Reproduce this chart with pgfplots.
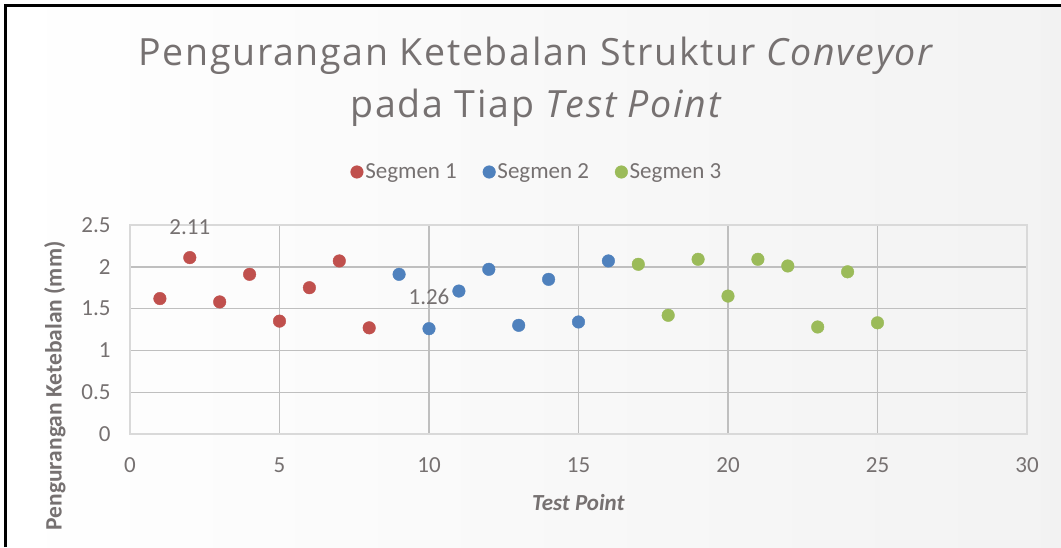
\documentclass[border=0pt]{standalone}
\usepackage{pgfplots}
\pgfplotsset{compat=1.18}
\usepackage{fontspec}
\setmainfont{Carlito}
\newfontfamily\titlefont[LetterSpace=4.5]{Open Sans}
\definecolor{txt}{HTML}{767171}
\definecolor{grid}{HTML}{D9D9D9}
\definecolor{cRed}{HTML}{C0504D}
\definecolor{cBlue}{HTML}{4F81BD}
\definecolor{cGreen}{HTML}{9BBB59}
\begin{document}
\begin{tikzpicture}
\begin{scope}[x=1pt,y=1pt]
\path[use as bounding box] (0,0) rectangle (1061,547);
\shade[left color=white, right color=black!5] (5.5,0) rectangle (1061,541.5);
\draw[line width=3.2pt] (5.5,0) -- (5.5,541.5) -- (1061,541.5);
\node[text=txt, font=\titlefont\fontsize{37.5}{52}\selectfont, align=center] at (537,465)
  {Pengurangan Ketebalan Struktur \textit{Conveyor}\\pada Tiap \textit{Test Point}};
\end{scope}
\begin{axis}[
  at={(130pt,113pt)}, anchor=south west,
  width=897pt, height=209pt, scale only axis,
  xmin=0, xmax=30, ymin=0, ymax=2.5,
  xtick={0,5,...,30}, ytick={0,0.5,...,2.5},
  grid=major, major grid style={grid, line width=1.4pt},
  axis line style={grid, line width=1.4pt},
  major tick length=0pt,
  tick label style={text=txt, font=\fontsize{23}{26}\selectfont},
  /pgf/number format/assume math mode=true,
  yticklabel style={/pgf/number format/fixed, /pgf/number format/precision=1},
  xticklabel style={yshift=-20pt},
  yticklabel style={xshift=-16pt},
  xlabel={\textbf{\textit{Test Point}}},
  xlabel style={text=txt, font=\fontsize{23}{26}\selectfont, at={(axis description cs:0.5,-0.330)}, anchor=center},
  ylabel={\textbf{Pengurangan Ketebalan (mm)}},
  ylabel style={text=txt, font=\fontsize{23.5}{26}\selectfont, at={(axis description cs:-0.0836,0.23)}, anchor=center},
  legend columns=3,
  legend style={at={(axis description cs:0.4537,1.2536)}, anchor=center, draw=none, fill=none,
    font=\fontsize{23}{26}\selectfont, text=txt,
    /tikz/every even column/.append style={column sep=24pt}},
  legend cell align=left,
  legend image code/.code={\draw[#1] plot coordinates {(0.05cm,0cm)};},
  clip=false,
]
\addplot[only marks, mark=*, mark size=6.3pt, cRed, mark options={draw=cRed, fill=cRed}] coordinates {
(1,1.62) (2,2.11) (3,1.58) (4,1.91) (5,1.35) (6,1.75) (7,2.07) (8,1.27)};
\addlegendentry{Segmen 1}
\addplot[only marks, mark=*, mark size=6.3pt, cBlue, mark options={draw=cBlue, fill=cBlue}] coordinates {
(9,1.91) (10,1.26) (11,1.71) (12,1.97) (13,1.30) (14,1.85) (15,1.34) (16,2.07)};
\addlegendentry{Segmen 2}
\addplot[only marks, mark=*, mark size=6.3pt, cGreen, mark options={draw=cGreen, fill=cGreen}] coordinates {
(17,2.03) (18,1.42) (19,2.09) (20,1.65) (21,2.09) (22,2.01) (23,1.28) (24,1.94) (25,1.33)};
\addlegendentry{Segmen 3}
\node[text=txt, font=\fontsize{23}{26}\selectfont] at (axis cs:2,2.47) {2.11};
\node[text=txt, font=\fontsize{23}{26}\selectfont] at (axis cs:10,1.64) {1.26};
\end{axis}
\end{tikzpicture}
\end{document}
